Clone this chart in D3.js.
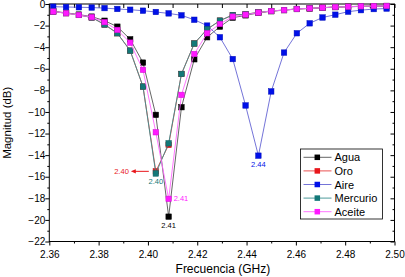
<!DOCTYPE html>
<html lang="es">
<head>
<meta charset="UTF-8">
<title>Magnitud vs Frecuencia</title>
<style>
    body { margin: 0; background: #fff; }
    text { font-family: Arial, "Liberation Sans", sans-serif; }
</style>
</head>
<body>
<svg id="chart" width="405" height="277"></svg>
<script src="https://cdnjs.cloudflare.com/ajax/libs/d3/7.8.5/d3.min.js"></script>
<script>

// frequency points (GHz)
const freq = [2.3616, 2.3668, 2.3720, 2.3772, 2.3824, 2.3876, 2.3928, 2.3980, 2.4032,
    2.4084, 2.4136, 2.4188, 2.4240, 2.4292, 2.4344, 2.4396, 2.4448, 2.4500,
    2.4552, 2.4604, 2.4656, 2.4708, 2.4760, 2.4812, 2.4864, 2.4916, 2.4968]

const agua = [-0.68, -0.82, -0.98, -1.17, -1.55, -2.1, -3.27, -5.43, -10.27,
    -19.7, -9.56, -5.12, -3.08, -2.1, -1.27, -1.05, -0.83, -0.67, -0.57,
    -0.47, -0.41, -0.35, -0.29, -0.26, -0.22, -0.2, -0.19]
const oro = [-0.7, -0.85, -1.02, -1.25, -1.9, -2.71, -4.32, -7.65, -15.5,
    -13.05, -6.48, -3.66, -2.34, -1.54, -1.02, -0.95, -0.78, -0.65, -0.56,
    -0.46, -0.4, -0.34, -0.28, -0.25, -0.21, -0.19, -0.18]
const aire = [-0.25, -0.28, -0.3, -0.33, -0.38, -0.46, -0.53, -0.62, -0.74,
    -0.87, -1.05, -1.46, -2.0, -3.08, -5.1, -9.4, -14.05, -8.1, -4.5,
    -2.71, -1.79, -1.25, -0.99, -0.71, -0.57, -0.47, -0.42]
const mercurio = [-0.7, -0.85, -1.02, -1.25, -1.9, -2.71, -4.32, -7.65, -15.7,
    -12.9, -6.48, -3.66, -2.34, -1.54, -1.02, -0.95, -0.78, -0.65, -0.56,
    -0.46, -0.4, -0.34, -0.28, -0.25, -0.21, -0.19, -0.18]
const aceite = [-0.7, -0.85, -1.02, -1.22, -1.68, -2.4, -3.58, -6.1, -11.88,
    -18.05, -8.42, -4.63, -2.71, -1.85, -1.17, -0.99, -0.8, -0.65, -0.56,
    -0.46, -0.4, -0.34, -0.28, -0.25, -0.21, -0.19, -0.18]

const seriesNames = ["Agua", "Oro", "Aire", "Mercurio", "Aceite"]
const seriesValues = [agua, oro, aire, mercurio, aceite]
const markColors = ["#000000", "#e8161b", "#0010e8", "#137878", "#ff19ff"]
const lineColors = ["#555555", "#e84040", "#6464d4", "#3a9090", "#ff66ff"]

const xTicks = [2.36, 2.38, 2.40, 2.42, 2.44, 2.46, 2.48, 2.50]
const yTicks = [0, -2, -4, -6, -8, -10, -12, -14, -16, -18, -20, -22]

// minimum labels: [x, y, text, colour index]
const annotations = [
    [2.4032, -15.7, "2.40", 3],
    [2.4084, -18.05, "2.41", 4],
    [2.4084, -19.7, "2.41", 0],
    [2.4448, -14.05, "2.44", 2]
]

let svg = d3.select("#chart")
let pLeft = 49.3, pRight = 394.5, pTop = 4, pBottom = 241.5

let x = d3.scaleLinear().domain([2.36, 2.50]).range([pLeft, pRight])
let y = d3.scaleLinear().domain([0, -22]).range([pTop, pBottom])

// frame
svg.append("rect")
    .attr("x", pLeft).attr("y", pTop)
    .attr("width", pRight - pLeft).attr("height", pBottom - pTop)
    .attr("fill", "none").attr("stroke", "#000").attr("stroke-width", 1)

// bottom axis
let xAxis = svg.append("g").attr("transform", `translate(0,${pBottom})`)
    .call(d3.axisBottom(x).tickValues(xTicks).tickSize(4).tickFormat(d3.format(".2f")))
xAxis.select(".domain").remove()
xAxis.selectAll("text").attr("font-size", 10).attr("fill", "#000").attr("dy", "0.95em")
svg.append("g").attr("transform", `translate(0,${pBottom})`)
    .call(d3.axisBottom(x).tickValues(d3.range(2.37, 2.50, 0.02)).tickSize(2).tickFormat(""))
    .select(".domain").remove()

// top axis (inward ticks)
svg.append("g").attr("transform", `translate(0,${pTop})`)
    .call(d3.axisTop(x).tickValues(d3.range(2.36, 2.505, 0.01)).tickSize(-4).tickFormat(""))
    .select(".domain").remove()

// left axis
let yAxis = svg.append("g").attr("transform", `translate(${pLeft},0)`)
    .call(d3.axisLeft(y).tickValues(yTicks).tickSize(4).tickFormat(d => d === 0 ? "0" : "\u2212" + Math.abs(d)))
yAxis.select(".domain").remove()
yAxis.selectAll("text").attr("font-size", 10).attr("fill", "#000").attr("x", -4)
svg.append("g").attr("transform", `translate(${pLeft},0)`)
    .call(d3.axisLeft(y).tickValues(d3.range(-1, -22, -2)).tickSize(2).tickFormat(""))
    .select(".domain").remove()

// right axis (inward ticks)
svg.append("g").attr("transform", `translate(${pRight},0)`)
    .call(d3.axisRight(y).tickValues(yTicks).tickSize(-4).tickFormat(""))
    .select(".domain").remove()
svg.append("g").attr("transform", `translate(${pRight},0)`)
    .call(d3.axisRight(y).tickValues(d3.range(-1, -22, -2)).tickSize(-2).tickFormat(""))
    .select(".domain").remove()

svg.selectAll(".tick line").attr("stroke", "#000")

// axis titles
svg.append("text")
    .attr("x", (pLeft + pRight) / 2 + 1).attr("y", 273)
    .attr("text-anchor", "middle").attr("font-size", 12)
    .text("Frecuencia (GHz)")
svg.append("text")
    .attr("transform", `translate(11,${(pTop + pBottom) / 2}) rotate(-90)`)
    .attr("text-anchor", "middle").attr("font-size", 11.5)
    .text("Magnitud (dB)")

// series
let line = d3.line()
    .x((d, i) => x(freq[i]))
    .y(d => y(d))

let sq = 5.5
seriesValues.forEach((vals, k) => {
    let g = svg.append("g")
    g.append("path")
        .attr("d", line(vals))
        .attr("fill", "none")
        .attr("stroke", lineColors[k])
        .attr("stroke-width", 0.9)
    g.selectAll("rect")
        .data(vals)
        .enter()
        .append("rect")
        .attr("x", (d, i) => x(freq[i]) - sq / 2)
        .attr("y", d => y(d) - sq / 2)
        .attr("width", sq).attr("height", sq)
        .attr("fill", markColors[k])
        .attr("stroke", d3.color(markColors[k]).darker(0.6))
        .attr("stroke-width", 0.5)
})

// red arrow for Oro minimum
let arrowY = y(-15.5)
svg.append("line")
    .attr("x1", x(2.4032) - 7).attr("y1", arrowY)
    .attr("x2", x(2.4032) - 21).attr("y2", arrowY)
    .attr("stroke", "#e8161b").attr("stroke-width", 1)
svg.append("path")
    .attr("d", `M${x(2.4032) - 25},${arrowY} l5,-2.2 l0,4.4 z`)
    .attr("fill", "#e8161b")
svg.append("text")
    .attr("x", x(2.4032) - 27).attr("y", arrowY + 2.5)
    .attr("text-anchor", "end").attr("font-size", 7.5)
    .attr("fill", "#e8161b")
    .text("2.40")

annotations.forEach(a => {
    let t = svg.append("text")
        .attr("font-size", 7.5)
        .attr("fill", markColors[a[3]])
        .text(a[2])
    if (a[3] === 4) {
        t.attr("x", x(a[0]) + 5).attr("y", y(a[1]) + 2.5)
    } else {
        t.attr("x", x(a[0])).attr("y", y(a[1]) + 11).attr("text-anchor", "middle")
    }
})

// legend
let lg = svg.append("g")
lg.append("rect")
    .attr("x", 300.5).attr("y", 149)
    .attr("width", 82).attr("height", 70)
    .attr("fill", "#fff").attr("stroke", "#000").attr("stroke-width", 0.8)
seriesNames.forEach((name, k) => {
    let ly = 157.3 + k * 13.6
    lg.append("line")
        .attr("x1", 303.5).attr("x2", 331.5)
        .attr("y1", ly).attr("y2", ly)
        .attr("stroke", lineColors[k]).attr("stroke-width", 0.9)
    lg.append("rect")
        .attr("x", 317.3 - sq / 2).attr("y", ly - sq / 2)
        .attr("width", sq).attr("height", sq)
        .attr("fill", markColors[k])
    lg.append("text")
        .attr("x", 334.5).attr("y", ly + 4)
        .attr("font-size", 11)
        .text(name)
})

</script>
</body>
</html>
